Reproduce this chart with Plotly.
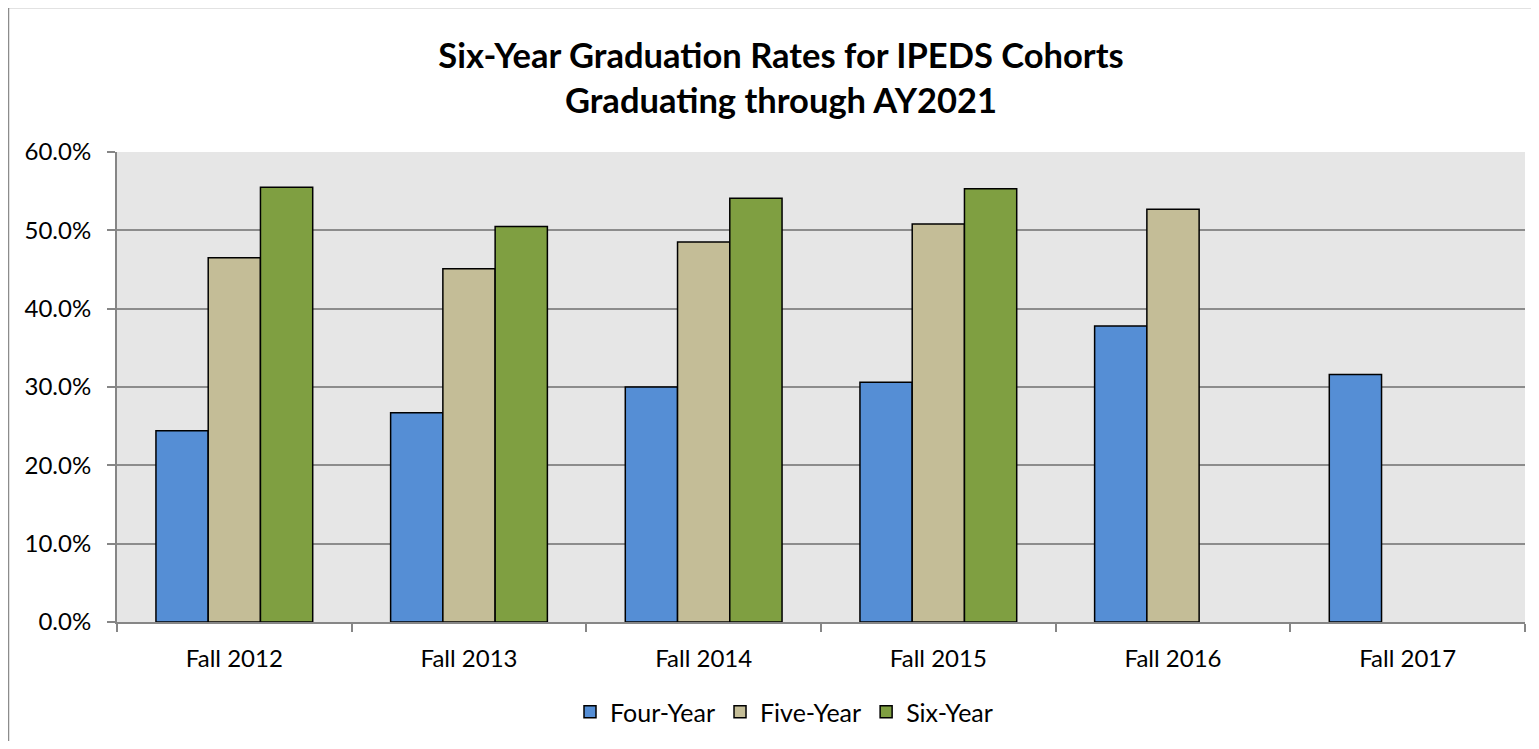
import plotly.graph_objects as go

categories = ["Fall 2012", "Fall 2013", "Fall 2014", "Fall 2015", "Fall 2016", "Fall 2017"]
four_year = [0.244, 0.267, 0.300, 0.306, 0.378, 0.316]
five_year = [0.465, 0.451, 0.485, 0.508, 0.527, None]
six_year = [0.555, 0.505, 0.541, 0.553, None, None]
series_names = ["Four-Year", "Five-Year", "Six-Year"]
colors = ["#558ED5", "#C4BD97", "#7F9F41"]
title_text = "Six-Year Graduation Rates for IPEDS Cohorts<br>Graduating through AY2021"

FONT = "Lato"
OFF = 8  # page body margin
W, H = 1539 - 2 * OFF, 749 - 2 * OFF
# plot area in page px: left 117, right 1525, top 152, bottom 622
L = 117 - OFF
T = 152 - OFF
R = W - (1525 - OFF)
B = H - (622 - OFF)
pw = W - L - R
ph = H - T - B


def px_x(page_x):
    return (page_x - OFF - L) / pw


def px_y(page_y):
    return ((622 - OFF) - (page_y - OFF)) / ph


fig = go.Figure()
for name, vals, col in zip(series_names, [four_year, five_year, six_year], colors):
    fig.add_trace(go.Bar(
        x=categories, y=vals, name=name,
        marker=dict(color=col, line=dict(color="#000000", width=1.5)),
    ))

fig.update_layout(
    width=W, height=H,
    margin=dict(l=L, r=R, t=T, b=B, pad=0, autoexpand=False),
    paper_bgcolor="#FFFFFF",
    plot_bgcolor="#E6E6E6",
    barmode="group",
    bargap=0.332,
    bargroupgap=0,
    font=dict(family=FONT, size=24, color="#000000"),
    title=dict(
        text=title_text,
        x=px_x(781), xanchor="center", xref="paper",
        y=1 - 60 / H, yanchor="middle", yref="container",
        font=dict(family=FONT, size=34.5, color="#000000", weight="bold"),
    ),
    legend=dict(
        orientation="h",
        x=px_x(784), xanchor="center",
        y=px_y(712), yanchor="middle",
        font=dict(family=FONT, size=25, color="#000000"),
        bgcolor="rgba(0,0,0,0)",
    ),
    showlegend=True,
    xaxis=dict(
        type="category",
        automargin=False,
        showgrid=False,
        showline=True, linecolor="#868686", linewidth=2,
        ticks="outside", tickson="boundaries", ticklen=8, tickcolor="#868686", tickwidth=2,
        tickfont=dict(family=FONT, size=24, color="#000000"),
        ticklabelstandoff=14,
        range=[-0.5, 5.5],
    ),
    yaxis=dict(
        automargin=False,
        range=[0, 0.6], dtick=0.1, tickformat=".1%",
        showgrid=True, gridcolor="#8C8C8C", gridwidth=1.5,
        showline=True, linecolor="#868686", linewidth=2,
        ticks="outside", ticklen=8, tickcolor="#868686", tickwidth=2,
        tickfont=dict(family=FONT, size=24, color="#000000"),
        ticklabelstandoff=11,
        zeroline=False,
    ),
    shapes=[dict(
        type="rect", xref="paper", yref="paper",
        x0=px_x(8.5), x1=px_x(1560),
        y0=px_y(780), y1=px_y(7.5),
        line=dict(color="#8C8C8C", width=1.5), fillcolor="rgba(0,0,0,0)",
        layer="below",
    )],
)

fig.write_html("out.html")
